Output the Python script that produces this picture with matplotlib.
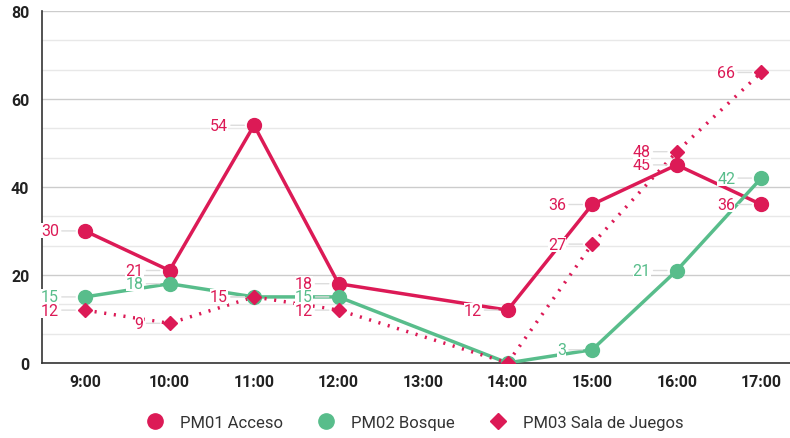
import numpy as np
import matplotlib.pyplot as plt
from matplotlib.ticker import MultipleLocator

plt.rcParams['font.family'] = ['Roboto', 'DejaVu Sans']

horas = ["9:00", "10:00", "11:00", "12:00", "13:00", "14:00", "15:00", "16:00", "17:00"]
pm01 = [30, 21, 54, 18, None, 12, 36, 45, 36]
pm02 = [15, 18, 15, 15, None, 0, 3, 21, 42]
pm03 = [12, 9, 15, 12, None, 0, 27, 48, 66]

rojo = "#dc1a56"
verde = "#58bd8b"

fig = plt.figure(figsize=(7.9, 4.39), dpi=100)
ax = fig.add_axes([0.053, 0.171, 0.947, 0.802])

series = [
    ("PM01 Acceso", pm01, rojo, "o", "-", 10),
    ("PM02 Bosque", pm02, verde, "o", "-", 10),
    ("PM03 Sala de Juegos", pm03, rojo, "D", (0, (0.6, 2.2)), 7),
]

for nombre, vals, color, mk, ls, ms in series:
    xs = [i for i, v in enumerate(vals) if v is not None]
    ys = [v for v in vals if v is not None]
    ax.plot(xs, ys, color=color, linestyle=ls, lw=2.5, zorder=3)
    ax.plot(xs, ys, color=color, marker=mk, markersize=ms, linestyle="none",
            zorder=4, label=nombre)
    # etiquetas de valor a la izquierda del punto
    for x, y in zip(xs, ys):
        if y == 0:
            continue
        ax.annotate(str(y), xy=(x, y), xytext=(-26, 0), textcoords="offset pixels",
                    ha="right", va="center", fontsize=11.5, color=color, zorder=5,
                    bbox=dict(boxstyle="square,pad=0.0", fc="white", ec="none"),
                    arrowprops=dict(arrowstyle="-", color="#dddddd", lw=1,
                                    shrinkA=2, shrinkB=7))

ax.set_xlim(-0.51, 8.34)
ax.set_ylim(0, 80)
ax.set_xticks(range(len(horas)))
ax.set_xticklabels(horas)
ax.yaxis.set_major_locator(MultipleLocator(20))
ax.yaxis.set_minor_locator(MultipleLocator(20 / 3))
ax.grid(axis="y", which="major", color="#cccccc", lw=1)
ax.grid(axis="y", which="minor", color="#e8e8e8", lw=1)
ax.set_axisbelow(True)
ax.tick_params(axis="both", which="both", length=0, labelsize=11.5, pad=8)
for lab in ax.get_xticklabels() + ax.get_yticklabels():
    lab.set_fontweight("bold")
    lab.set_color("#222222")
ax.tick_params(axis="y", pad=9)
for s in ["top", "right"]:
    ax.spines[s].set_visible(False)
ax.spines["left"].set_color("#333333")
ax.spines["bottom"].set_color("#333333")
ax.spines["left"].set_linewidth(1.2)
ax.spines["bottom"].set_linewidth(1.2)

fig.legend(loc="center", bbox_to_anchor=(0.52, 0.035), ncol=3, frameon=False,
           fontsize=12, handletextpad=0.5, columnspacing=1.6, markerscale=1.1,
           labelcolor="#333333")

fig.savefig("out.png", dpi=100)
